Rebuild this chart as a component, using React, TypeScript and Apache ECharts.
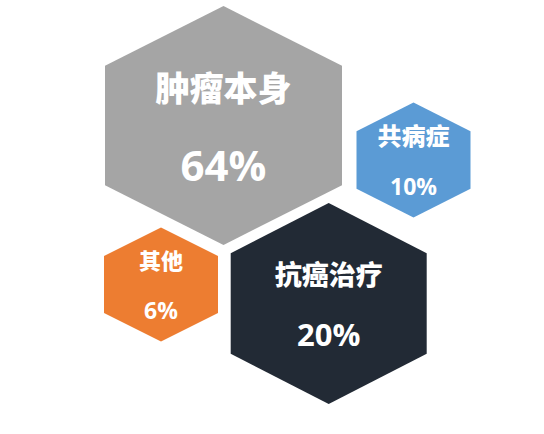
// Hexagon "bubble" chart: share of each cause, one pointy-top hexagon per category,
// drawn as a scatter series on hidden pixel-scaled axes.
import { useEffect, useRef } from 'react'
import * as echarts from 'echarts'

const categorias = ['肿瘤本身', '共病症', '抗癌治疗', '其他']
const percentuais = [64, 10, 20, 6]

// Layout of each hexagon (centre in page pixels, width/height) and its look.
const LAYOUT = [
  { cx: 223.5, cy: 125.5, w: 237, h: 239, cor: '#a5a5a5', nome: 34, valor: 42, linha: 78 },
  { cx: 413.5, cy: 160, w: 114, h: 115, cor: '#5b9bd5', nome: 24, valor: 23, linha: 51 },
  { cx: 328.7, cy: 303.5, w: 196, h: 201, cor: '#222a35', nome: 27, valor: 31, linha: 60 },
  { cx: 161, cy: 284.5, w: 114, h: 114, cor: '#ed7d31', nome: 22, valor: 23, linha: 51 },
]

const HEXAGONO = 'path://M50,0 L100,25 L100,75 L50,100 L0,75 L0,25 Z'
const LARGURA = 544
const ALTURA = 434

export default function App() {
  const ref = useRef<HTMLDivElement>(null)

  useEffect(() => {
    if (!ref.current) return
    const chart = echarts.init(ref.current, undefined, { renderer: 'svg' })

    const dados = categorias.map((nome, i) => {
      const l = LAYOUT[i]
      return {
        name: nome,
        value: [l.cx, l.cy, percentuais[i]],
        symbolSize: [l.w, l.h],
        itemStyle: { color: l.cor, opacity: 1 },
        label: {
          show: true,
          position: 'inside',
          formatter: `{n|${nome}}\n{v|${percentuais[i]}%}`,
          rich: {
            n: {
              fontFamily: '"Noto Sans CJK SC", sans-serif',
              fontWeight: 900,
              fontSize: l.nome,
              lineHeight: l.linha,
              color: '#ffffff',
            },
            v: {
              fontFamily: '"Open Sans", "Noto Sans CJK SC", sans-serif',
              fontWeight: 'bold',
              fontSize: l.valor,
              lineHeight: l.linha,
              color: '#ffffff',
            },
          },
        },
      }
    })

    chart.setOption({
      animation: false,
      backgroundColor: '#ffffff',
      grid: { left: 0, right: 0, top: 0, bottom: 0 },
      xAxis: { type: 'value', min: 0, max: LARGURA, show: false },
      yAxis: { type: 'value', min: 0, max: ALTURA, inverse: true, show: false },
      series: [
        {
          type: 'scatter',
          symbol: HEXAGONO,
          symbolKeepAspect: false,
          clip: false,
          itemStyle: { opacity: 1 },
          emphasis: { disabled: true },
          data: dados,
        },
      ],
    })

    return () => chart.dispose()
  }, [])

  return (
    <div
      ref={ref}
      style={{ position: 'fixed', left: 0, top: 0, width: LARGURA, height: ALTURA }}
    />
  )
}
